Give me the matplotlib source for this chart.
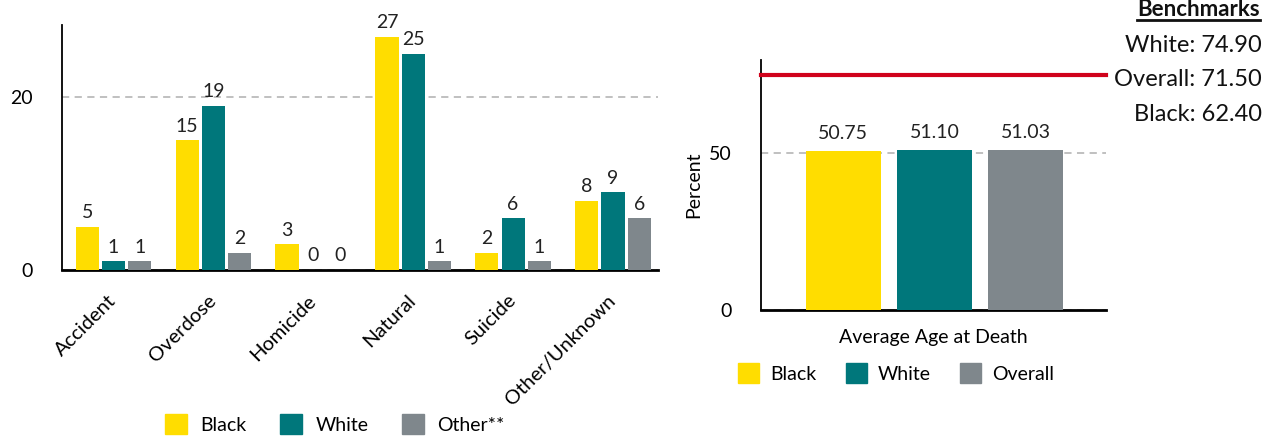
import numpy as np
import matplotlib.pyplot as plt
from matplotlib.patches import Patch
from matplotlib.lines import Line2D
from matplotlib.transforms import ScaledTranslation

plt.rcParams['font.family'] = ['Lato', 'DejaVu Sans']

# manner of death counts
causes = ['Accident', 'Overdose', 'Homicide', 'Natural', 'Suicide', 'Other/Unknown']
black = [5, 15, 3, 27, 2, 8]
white = [1, 19, 0, 25, 6, 9]
other = [1, 2, 0, 1, 1, 6]
race_labels = ['Black', 'White', 'Other**']

# average age at death
age_groups = ['Black', 'White', 'Overall']
avg_age = [50.75, 51.10, 51.03]
age_labels = ['50.75', '51.10', '51.03']
bench_names = ['White', 'Overall', 'Black']
bench_vals = [74.90, 71.50, 62.40]
bench_line = 74.90

YELLOW = '#FFDD00'
TEAL = '#00777B'
GREY = '#7F878C'
RED = '#D0021B'
colors = [YELLOW, TEAL, GREY]
FS = 14

fig = plt.figure(figsize=(12.66, 4.37), dpi=100)

# ---- left: counts by cause ----
ax1 = fig.add_axes([62/1266, 1-270/437, (658-62)/1266, (270-25)/437])
x = np.arange(len(causes))
w = 0.232
off = 0.263
for i, (vals, c) in enumerate(zip([black, white, other], colors)):
    xs = x + (i-1)*off
    ax1.bar(xs, vals, width=w, color=c, zorder=3)
    for xi, v in zip(xs, vals):
        ax1.annotate(str(v), (xi, v), xytext=(0, 4), textcoords='offset points',
                     ha='center', va='bottom', fontsize=FS, color='#222222')
ax1.set_xlim(-0.515, 5.45)
ax1.set_ylim(0, 28.35)
ax1.set_yticks([0, 20])
ax1.yaxis.grid(True, linestyle=(0, (4, 3)), color='#BBBBBB', linewidth=1.3)
ax1.set_axisbelow(True)
ax1.set_xticks(x)
ax1.set_xticklabels(causes, rotation=45, ha='right', va='center',
                    rotation_mode='anchor', fontsize=14.5)
# nudge rotated labels a little to the left
shift = ScaledTranslation(-5/100, 0, fig.dpi_scale_trans)
for lab in ax1.get_xticklabels():
    lab.set_transform(lab.get_transform() + shift)
for s in ['top', 'right']:
    ax1.spines[s].set_visible(False)
ax1.spines['left'].set_linewidth(1.3)
ax1.spines['bottom'].set_linewidth(2)
ax1.tick_params(length=0, labelsize=FS)
ax1.tick_params(axis='y', pad=21)
ax1.tick_params(axis='x', pad=20, labelsize=14.5)

fig.legend(handles=[Patch(color=c) for c in colors], labels=race_labels,
           loc='center', bbox_to_anchor=(335/1266, 1-424/437), ncol=3,
           frameon=False, fontsize=FS, handlelength=1.1, handleheight=1.2,
           handletextpad=0.7, columnspacing=1.75)

# ---- right: average age ----
ax2 = fig.add_axes([761/1266, 1-310/437, (1106-761)/1266, (310-60)/437])
xa = np.arange(len(age_groups))
ax2.bar(xa, avg_age, width=0.82, color=colors, zorder=3)
for xi, v, lab in zip(xa, avg_age, age_labels):
    ax2.annotate(lab, (xi, v), xytext=(0, 6), textcoords='offset points',
                 ha='center', va='bottom', fontsize=FS, color='#222222')
ax2.axhline(bench_line, color=RED, linewidth=3, zorder=4, clip_on=False)
ax2.set_xlim(-0.9, 2.88)
ax2.set_ylim(0, 79.6)
ax2.set_yticks([0, 50])
ax2.yaxis.grid(True, linestyle=(0, (4, 3)), color='#BBBBBB', linewidth=1.3)
ax2.set_axisbelow(True)
ax2.set_xticks([])
ax2.set_xlabel('Average Age at Death', fontsize=FS, labelpad=14)
ax2.set_ylabel('Percent', fontsize=FS, labelpad=5)
for s in ['top', 'right']:
    ax2.spines[s].set_visible(False)
ax2.spines['left'].set_linewidth(1.3)
ax2.spines['bottom'].set_linewidth(2)
ax2.tick_params(length=0, labelsize=FS, pad=21)

fig.legend(handles=[Patch(color=c) for c in colors], labels=age_groups,
           loc='center', bbox_to_anchor=(896/1266, 1-373/437), ncol=3,
           frameon=False, fontsize=FS, handlelength=1.1, handleheight=1.2,
           handletextpad=0.55, columnspacing=1.5)

# benchmark block, top right
hdr = fig.text(1260/1266, 1-9/437, 'Benchmarks', ha='right', va='center',
               fontsize=16, fontweight='bold', color='#111111')
for k, (n, v) in enumerate(zip(bench_names, bench_vals)):
    fig.text(1262/1266, 1-(45+35*k)/437, f'{n}: {v:.2f}', ha='right', va='center',
             fontsize=17, color='#111111')

fig.canvas.draw()
bb = hdr.get_window_extent().transformed(fig.transFigure.inverted())
fig.add_artist(Line2D([bb.x0, bb.x1], [bb.y0 - 0.002, bb.y0 - 0.002],
                      transform=fig.transFigure, color='#111111', linewidth=2))

fig.savefig('out.png', dpi=100)
